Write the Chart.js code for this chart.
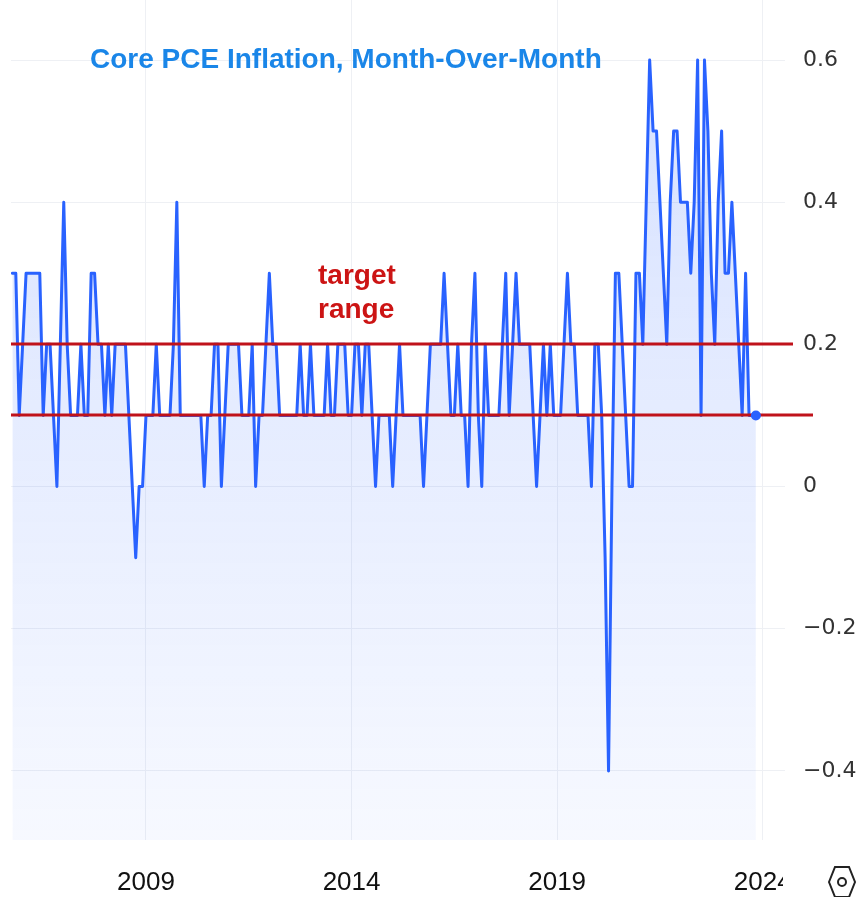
<!DOCTYPE html>
<html>
<head>
<meta charset="utf-8">
<script src="https://cdn.jsdelivr.net/npm/chart.js@4.4.1/dist/chart.umd.min.js"></script>
<style>
  html, body { margin: 0; padding: 0; background: #ffffff; }
  #wrap { width: 858px; height: 897px; }
</style>
</head>
<body>
<div id="wrap"><canvas id="c" width="858" height="897"></canvas></div>
<script>
// ---- data ----
const TITLE = 'Core PCE Inflation, Month-Over-Month';
const TARGET_LABEL = ['target', 'range'];
const START_YEAR = 2005;   // first observation: Oct 2005
const START_MONTH = 10;
const CORE_PCE_MOM = [
  0.3,0.3,0.1,0.2,0.3,0.3,0.3,0.3,0.3,0.1,
  0.2,0.2,0.1,0.0,0.2,0.4,0.2,0.1,0.1,0.1,
  0.2,0.1,0.1,0.3,0.3,0.2,0.2,0.1,0.2,0.1,
  0.2,0.2,0.2,0.2,0.1,0.0,-0.1,0.0,0.0,0.1,
  0.1,0.1,0.2,0.1,0.1,0.1,0.1,0.2,0.4,0.1,
  0.1,0.1,0.1,0.1,0.1,0.1,0.0,0.1,0.1,0.2,
  0.2,0.0,0.1,0.2,0.2,0.2,0.2,0.1,0.1,0.1,
  0.2,0.0,0.1,0.1,0.2,0.3,0.2,0.2,0.1,0.1,
  0.1,0.1,0.1,0.1,0.2,0.1,0.1,0.2,0.1,0.1,
  0.1,0.1,0.2,0.1,0.1,0.2,0.2,0.2,0.1,0.1,
  0.2,0.2,0.1,0.2,0.2,0.1,0.0,0.1,0.1,0.1,
  0.1,0.0,0.1,0.2,0.1,0.1,0.1,0.1,0.1,0.1,
  0.0,0.1,0.2,0.2,0.2,0.2,0.3,0.2,0.1,0.1,
  0.2,0.1,0.1,0.0,0.2,0.3,0.1,0.0,0.2,0.1,
  0.1,0.1,0.1,0.2,0.3,0.1,0.2,0.3,0.2,0.2,
  0.2,0.2,0.1,0.0,0.1,0.2,0.1,0.2,0.1,0.1,
  0.1,0.2,0.3,0.2,0.2,0.1,0.1,0.1,0.1,0.0,
  0.2,0.2,0.1,-0.1,-0.4,0.0,0.3,0.3,0.2,0.1,
  0.0,0.0,0.3,0.3,0.2,0.4,0.6,0.5,0.5,0.4,
  0.3,0.2,0.4,0.5,0.5,0.4,0.4,0.4,0.3,0.4,
  0.6,0.1,0.6,0.5,0.3,0.2,0.4,0.5,0.3,0.3,
  0.4,0.3,0.2,0.1,0.3,0.1,0.1,0.1
];
const TARGET_RANGE = [0.1, 0.2];
const X_TICK_YEARS = [2009, 2014, 2019, 2024];
const Y_TICKS = [-0.4, -0.2, 0, 0.2, 0.4, 0.6];

// ---- build ----
const points = CORE_PCE_MOM.map((v, i) => ({ x: START_YEAR + (START_MONTH - 1 + i) / 12, y: v }));

const BLUE = '#2962ff';
const RED_LINE = '#c0121b';
const RED_TEXT = '#cc1414';

const overlay = {
  id: 'overlay',
  afterDatasetsDraw(chart) {
    const { ctx, chartArea, scales: { y } } = chart;
    ctx.save();
    ctx.strokeStyle = RED_LINE;
    ctx.lineWidth = 3;
    const ends = [chartArea.right + 28, chartArea.right + 8];
    TARGET_RANGE.forEach((v, k) => {
      const py = Math.round(y.getPixelForValue(v));
      ctx.beginPath();
      ctx.moveTo(chartArea.left, py);
      ctx.lineTo(ends[k], py);
      ctx.stroke();
    });
    const meta = chart.getDatasetMeta(0);
    const last = meta.data[meta.data.length - 1];
    ctx.fillStyle = BLUE;
    ctx.beginPath();
    ctx.arc(last.x, last.y, 5, 0, Math.PI * 2);
    ctx.fill();
    ctx.restore();
  },
  afterDraw(chart) {
    const { ctx, chartArea } = chart;
    ctx.save();
    // title
    ctx.fillStyle = '#1a86e8';
    ctx.font = 'bold 28px "Liberation Sans", Arial, sans-serif';
    ctx.textBaseline = 'alphabetic';
    ctx.textAlign = 'left';
    ctx.fillText(TITLE, 90, 68);
    // target range label
    ctx.fillStyle = RED_TEXT;
    ctx.font = 'bold 28px "Liberation Sans", Arial, sans-serif';
    ctx.fillText(TARGET_LABEL[0], 318, 284);
    ctx.fillText(TARGET_LABEL[1], 318, 318);
    // settings strip on the right of the time axis
    ctx.fillStyle = '#ffffff';
    ctx.fillRect(783, chartArea.bottom + 6, 858 - 783, 897 - chartArea.bottom - 6);
    // hexagon icon
    const cx = 842, cy = 882;
    ctx.strokeStyle = '#222';
    ctx.lineWidth = 2;
    ctx.beginPath();
    ctx.moveTo(cx - 13, cy);
    ctx.lineTo(cx - 7, cy - 15);
    ctx.lineTo(cx + 7, cy - 15);
    ctx.lineTo(cx + 13, cy);
    ctx.lineTo(cx + 7, cy + 15);
    ctx.lineTo(cx - 7, cy + 15);
    ctx.closePath();
    ctx.stroke();
    ctx.beginPath();
    ctx.arc(cx, cy, 4, 0, Math.PI * 2);
    ctx.stroke();
    ctx.restore();
  }
};

const X_MIN = 2009 - 39.4 / 12;
const X_MAX = 2009 + 186.5 / 12;

new Chart(document.getElementById('c').getContext('2d'), {
  type: 'line',
  data: {
    datasets: [{
      data: points,
      borderColor: BLUE,
      borderWidth: 3,
      borderJoinStyle: 'round',
      borderCapStyle: 'round',
      pointRadius: 0,
      tension: 0,
      fill: 'start',
      backgroundColor: (c) => {
        const { ctx, chartArea } = c.chart;
        if (!chartArea) return 'rgba(41,98,255,0.12)';
        const g = ctx.createLinearGradient(0, chartArea.top, 0, chartArea.bottom);
        g.addColorStop(0, 'rgba(41,98,255,0.20)');
        g.addColorStop(1, 'rgba(41,98,255,0.04)');
        return g;
      }
    }]
  },
  options: {
    responsive: false,
    animation: false,
    devicePixelRatio: 1,
    layout: { padding: { left: 11, top: 0, right: 0, bottom: 0 } },
    plugins: { legend: { display: false }, tooltip: { enabled: false }, title: { display: false } },
    scales: {
      x: {
        type: 'linear',
        min: X_MIN,
        max: X_MAX,
        afterBuildTicks: (s) => { s.ticks = X_TICK_YEARS.map(v => ({ value: v })); },
        afterFit: (s) => { s.height = 57; s.paddingLeft = 0; s.paddingRight = 0; s.paddingTop = 0; s.paddingBottom = 0; },
        grid: { color: '#eef0f4', drawTicks: false },
        border: { display: false },
        ticks: {
          autoSkip: false, maxRotation: 0, padding: 27,
          font: { family: '"Liberation Sans", Arial, sans-serif', size: 26 },
          color: '#111111',
          callback: (v) => String(v)
        }
      },
      y: {
        position: 'right',
        min: -0.4972,
        max: 0.6844,
        afterBuildTicks: (s) => { s.ticks = Y_TICKS.map(v => ({ value: v })); },
        afterFit: (s) => { s.width = 73; s.paddingTop = 0; s.paddingBottom = 0; s.paddingLeft = 0; s.paddingRight = 0; },
        grid: { color: '#eef0f4', drawTicks: false },
        border: { display: false },
        ticks: {
          padding: 18,
          font: { family: '"DejaVu Sans", sans-serif', size: 22 },
          color: '#333333',
          callback: (v) => (v < 0 ? '\u2212' + Math.abs(v) : String(v))
        }
      }
    }
  },
  plugins: [overlay]
});
</script>
</body>
</html>
